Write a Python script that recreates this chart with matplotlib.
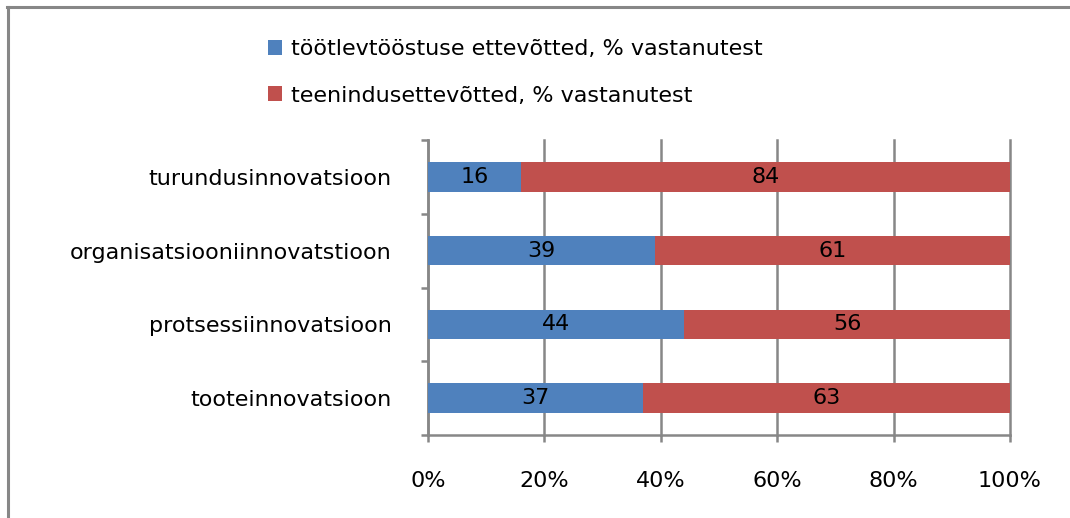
import matplotlib
matplotlib.use("Agg")
import matplotlib.pyplot as plt
from matplotlib.lines import Line2D
import numpy as np

# categories listed top to bottom, as in the chart
categories = ["turundusinnovatsioon", "organisatsiooniinnovatstioon",
              "protsessiinnovatsioon", "tooteinnovatsioon"]
tootlev = [16, 39, 44, 37]
teenindus = [84, 61, 56, 63]
series_names = ["töötlevtööstuse ettevõtted, % vastanutest",
                "teenindusettevõtted, % vastanutest"]
xticks = [0, 20, 40, 60, 80, 100]
xtick_labels = ["0%", "20%", "40%", "60%", "80%", "100%"]

BLUE = "#4F81BD"
RED = "#C0504D"
GRAY = "#878787"

plt.rcParams["font.family"] = ["DejaVu Sans"]
plt.rcParams["font.size"] = 16

fig = plt.figure(figsize=(10.7, 5.18), dpi=100)
ax = fig.add_axes([428 / 1070, 1 - 435 / 518, 582 / 1070, 295 / 518])

y = np.arange(len(categories))
b1 = ax.barh(y, tootlev, height=0.4, color=BLUE, label=series_names[0], zorder=3)
b2 = ax.barh(y, teenindus, left=tootlev, height=0.4, color=RED,
             label=series_names[1], zorder=3)

for bars in (b1, b2):
    ax.bar_label(bars, label_type="center", fontsize=16, color="black")

ax.set_xlim(0, 100)
ax.set_ylim(len(categories) - 0.5, -0.5)
ax.set_xticks(xticks)
ax.set_xticklabels(xtick_labels)
ax.set_yticks(y)
ax.set_yticklabels(categories)
ax.set_yticks(np.arange(len(categories) + 1) - 0.5, minor=True)

ax.grid(axis="x", color=GRAY, linewidth=1.8, zorder=0)
for gl in ax.get_xgridlines():
    gl.set_clip_on(False)
ax.tick_params(axis="y", which="major", length=0, pad=26)
ax.tick_params(axis="y", which="minor", length=5, width=1.8, color=GRAY)
ax.tick_params(axis="x", length=5, width=1.8, color=GRAY, pad=21)

for side in ("top", "right"):
    ax.spines[side].set_visible(False)
for side in ("left", "bottom"):
    ax.spines[side].set_color(GRAY)
    ax.spines[side].set_linewidth(1.8)

fig.legend(loc="upper left", bbox_to_anchor=(259 / 1070, 1 - 30 / 518),
           frameon=False, fontsize=16, handlelength=0.65, handleheight=0.65,
           handletextpad=0.4, labelspacing=1.2, borderaxespad=0)

# outer chart border (only top and left visible)
fig.add_artist(Line2D([7 / 1070, 1], [1 - 7 / 518, 1 - 7 / 518],
                      transform=fig.transFigure, color=GRAY, linewidth=2.2))
fig.add_artist(Line2D([7.5 / 1070, 7.5 / 1070], [0, 1 - 7 / 518],
                      transform=fig.transFigure, color=GRAY, linewidth=2.2))

fig.savefig("out.png", dpi=100)
